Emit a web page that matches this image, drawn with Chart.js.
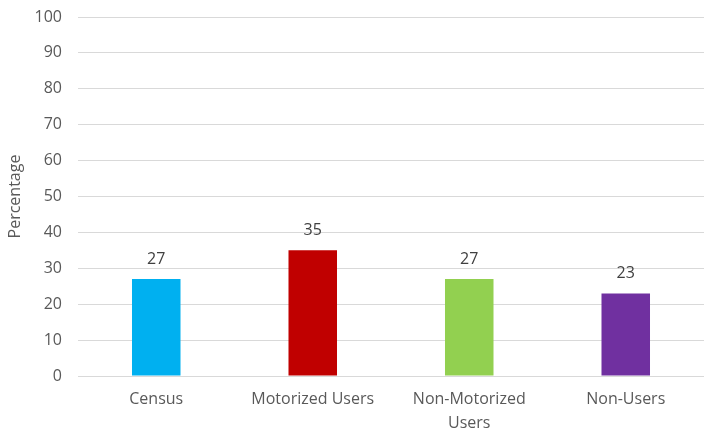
<!DOCTYPE html>
<html>
<head>
<meta charset="utf-8">
<script src="https://cdn.jsdelivr.net/npm/chart.js@4"></script>
<style>
  html, body { margin: 0; padding: 0; background: #fff; }
  #wrap { width: 704px; height: 432px; }
</style>
</head>
<body>
<div id="wrap"><canvas id="chart" width="704" height="432"></canvas></div>
<script>
const categories = ["Census", "Motorized Users", ["Non-Motorized", "Users"], "Non-Users"];
const values = [27, 35, 27, 23];
const barColors = ["#00B0F0", "#C00000", "#92D050", "#7030A0"];
const yTicks = { min: 0, max: 100, step: 10 };

const textColor = "#595959";
const fontFamily = "'Open Sans', sans-serif";

// value labels above bars
const valueLabels = {
  id: "valueLabels",
  afterDatasetsDraw(chart) {
    const ctx = chart.ctx;
    const meta = chart.getDatasetMeta(0);
    ctx.save();
    ctx.font = "16px " + fontFamily;
    ctx.fillStyle = "#404040";
    ctx.textAlign = "center";
    ctx.textBaseline = "middle";
    meta.data.forEach((bar, i) => {
      ctx.fillText(values[i], bar.x, bar.y - 20);
    });
    ctx.restore();
  }
};

new Chart(document.getElementById("chart"), {
  type: "bar",
  data: {
    labels: categories,
    datasets: [{
      data: values,
      backgroundColor: barColors,
      borderWidth: 0,
      categoryPercentage: 1,
      barPercentage: 0.31
    }]
  },
  options: {
    responsive: false,
    animation: false,
    layout: { padding: { top: 17, right: 0, left: 6, bottom: 0 } },
    plugins: { legend: { display: false }, tooltip: { enabled: false } },
    scales: {
      x: {
        grid: { display: false },
        border: { display: false },
        ticks: { color: textColor, font: { family: fontFamily, size: 16, lineHeight: 1.5 }, padding: 3, maxRotation: 0, autoSkip: false },
        afterFit(axis) { axis.height = 56; }
      },
      y: {
        min: yTicks.min,
        max: yTicks.max,
        ticks: { stepSize: yTicks.step, color: textColor, font: { family: fontFamily, size: 16 }, padding: 16 },
        grid: { color: "#D9D9D9", lineWidth: 1, drawTicks: false },
        border: { display: false },
        title: { display: true, text: "Percentage", color: textColor, font: { family: fontFamily, size: 16 }, padding: 0 },
        afterFit(axis) { axis.width = 72; axis.paddingTop = 0; }
      }
    }
  },
  plugins: [valueLabels]
});
</script>
</body>
</html>
